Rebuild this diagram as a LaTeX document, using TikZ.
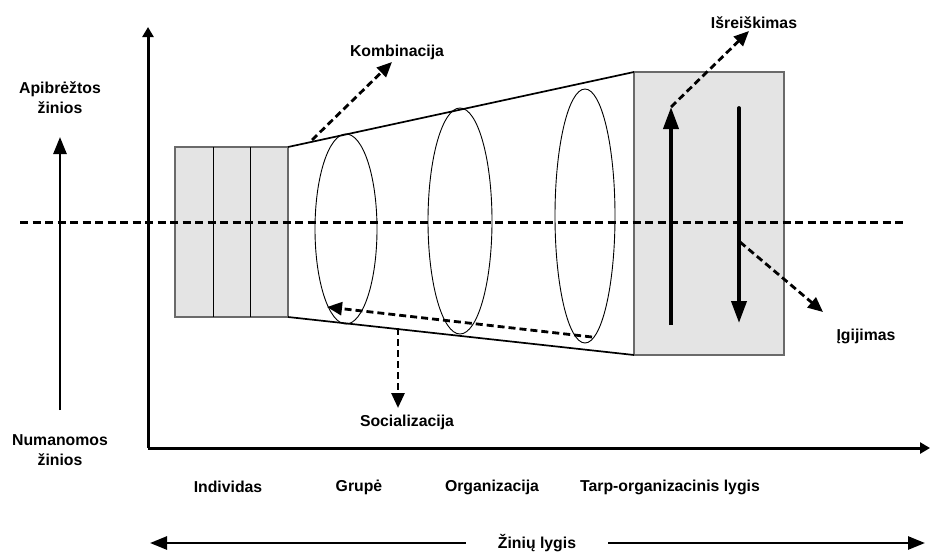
\documentclass[tikz,border=0pt]{standalone}
\usepackage{fontspec}
\setmainfont{Liberation Sans}
\usetikzlibrary{arrows.meta}
\definecolor{boxfill}{HTML}{E4E4E4}
\definecolor{boxedge}{HTML}{6A6A6A}
\begin{document}
\begin{tikzpicture}[x=1pt,y=-1pt,
  lbl/.style={font=\fontsize{15.8}{20}\selectfont\bfseries, align=center, inner sep=0pt},
  axis/.style={line width=3pt, -{Triangle[length=10pt,width=11pt]}},
  sidearrow/.style={line width=2.6pt, -{Triangle[length=17pt,width=13pt]}},
  flowarrow/.style={line width=3.8pt, -{Triangle[length=22pt,width=15pt]}},
  dasharrow/.style={line width=2.8pt, dash pattern=on 7pt off 4pt, -{Triangle[length=15pt,width=13pt]}},
  greybox/.style={fill=boxfill, draw=boxedge, line width=1.1pt},
  rim/.style={line width=1.7pt},
  ring/.style={line width=0.9pt}]
\useasboundingbox (0,0) rectangle (931,552);

% axes
\coordinate (O) at (148,448);
\coordinate (yTop) at (148,27);
\coordinate (xEnd) at (930,448);
\draw[axis] (O) -- (yTop);
\draw[axis] (O) -- (xEnd);

% knowledge type arrow on the left
\node[lbl] (explicit) at (60,98) {Apibrėžtos\\žinios};
\node[lbl] (tacit) at (60,450) {Numanomos\\žinios};
\coordinate (sideLow) at (60,410);
\coordinate (sideHigh) at (60,137);
\draw[sidearrow] (sideLow) -- (sideHigh);

% individual level: three stacked panels
\coordinate (indNW) at (175,147);
\coordinate (indSE) at (288,317);
\draw[greybox] (indNW) rectangle (indSE);
\draw[line width=0.8pt] (213,147) -- (213,317);
\draw[line width=0.8pt] (250,147) -- (250,317);

% inter-organisational level box
\coordinate (outNW) at (634,72);
\coordinate (outSE) at (784,355);
\draw[greybox] (outNW) rectangle (outSE);

% widening funnel between the two boxes
\coordinate (indNE) at (288,147);
\coordinate (indSEc) at (288,317);
\coordinate (outSW) at (634,355);
\draw[rim] (indNE) -- (outNW);
\draw[rim] (indSEc) -- (outSW);

% group and organisation rings
\draw[ring] (346,229) ellipse [x radius=31, y radius=95];
\draw[ring] (460,221) ellipse [x radius=32, y radius=113];
\draw[ring] (585,216) ellipse [x radius=30, y radius=127];

% tacit / explicit border
\coordinate (midL) at (20,222);
\coordinate (midR) at (905,222);
\draw[line width=3pt, dash pattern=on 8pt off 4.5pt] (midL) -- (midR);

% conversion arrows in the outer box
\coordinate (upLow) at (671,325);
\coordinate (upHigh) at (671,107);
\coordinate (downHigh) at (739,108);
\coordinate (downLow) at (739,323);
\draw[flowarrow] (upLow) -- (upHigh);
\draw[line width=3.8pt, line cap=round] (downHigh) -- (739,300);
\draw[flowarrow] (downHigh) -- (downLow);

% externalisation
\node[lbl] (ext) at (754,23) {Išreiškimas};
\coordinate (extTip) at (749,31);
\draw[dasharrow] (upHigh) -- (extTip);

% internalisation
\node[lbl] (int) at (866,336) {Įgijimas};
\coordinate (intStart) at (740,242);
\coordinate (intTip) at (823,312);
\draw[dasharrow] (intStart) -- (intTip);

% combination
\node[lbl] (comb) at (397,52) {Kombinacija};
\coordinate (combStart) at (312,140);
\coordinate (combTip) at (392,62);
\draw[dasharrow] (combStart) -- (combTip);

% socialisation
\node[lbl] (soc) at (407,422) {Socializacija};
\coordinate (socStart) at (592,337);
\coordinate (socTip) at (327,307);
\draw[dasharrow] (socStart) -- (socTip);
\coordinate (socDown) at (398,328);
\coordinate (socDownTip) at (398,408);
\draw[dasharrow] (socDown) -- (socDownTip);

% levels along the horizontal axis
\node[lbl] (lvlInd) at (228,487) {Individas};
\node[lbl] (lvlGrp) at (359,487) {Grupė};
\node[lbl] (lvlOrg) at (492,487) {Organizacija};
\node[lbl] (lvlInter) at (670,487) {Tarp-organizacinis lygis};

% knowledge level arrow
\node[lbl, inner xsep=32pt] (lvl) at (537,543) {Žinių lygis};
\coordinate (lvlL) at (150,543);
\coordinate (lvlR) at (925,543);
\draw[sidearrow] (lvl.west) -- (lvlL);
\draw[sidearrow] (lvl.east) -- (lvlR);
\end{tikzpicture}
\end{document}
